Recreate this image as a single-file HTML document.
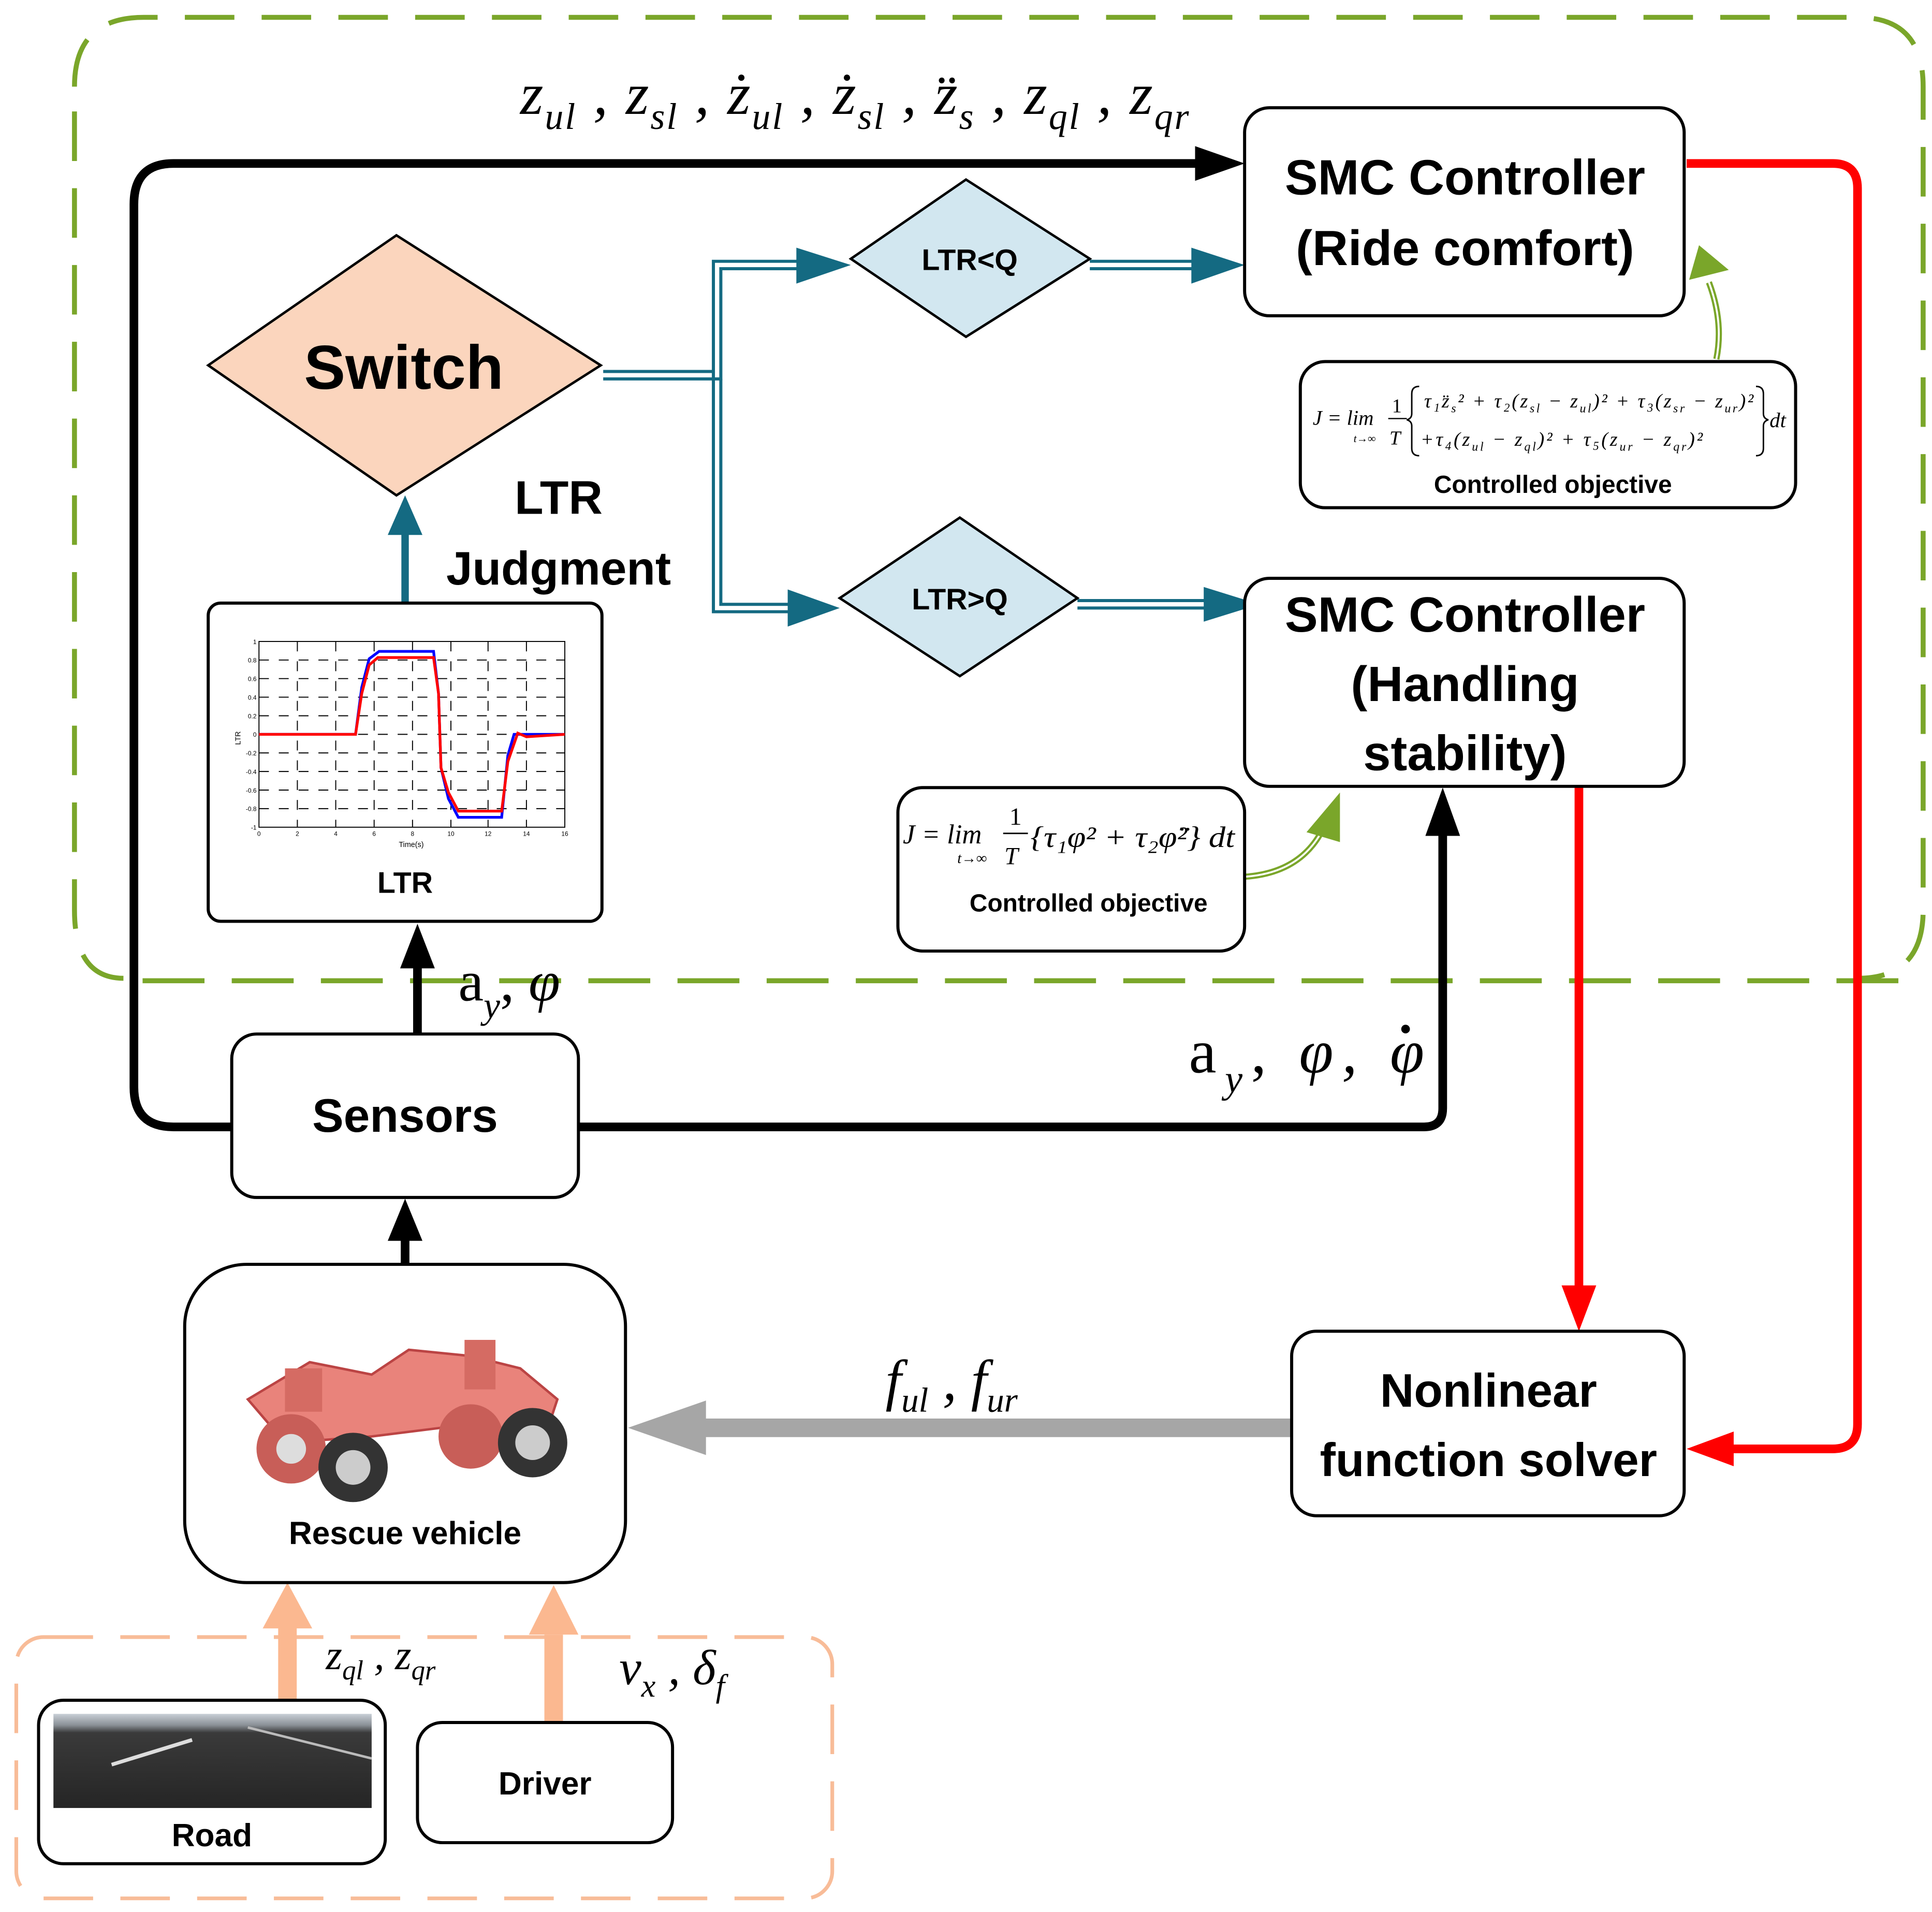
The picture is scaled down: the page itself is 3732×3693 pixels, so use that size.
<!DOCTYPE html>
<html><head><meta charset="utf-8"><style>
html,body{margin:0;padding:0;background:#fff;width:3732px;height:3693px;overflow:hidden}
svg{display:block}
.b{font-family:"Liberation Sans",sans-serif;font-weight:bold;fill:#000}
.m{font-family:"Liberation Serif",serif;font-style:italic;fill:#000}
.r{font-family:"Liberation Serif",serif;fill:#000}
</style></head><body>
<svg width="3732" height="3693" viewBox="0 0 1560 1544" xmlns="http://www.w3.org/2000/svg">
<!-- green dashed region -->
<path d="M60,70 Q60,14 116,14 H1500 Q1553,14 1553,70 V735 Q1553,790 1500,790" fill="none" stroke="#7aa62a" stroke-width="4" stroke-dasharray="40,22"/>
<path d="M60,90 V735 Q60,790 100,790" fill="none" stroke="#7aa62a" stroke-width="4" stroke-dasharray="40,22"/>
<line x1="115" y1="792" x2="1545" y2="792" stroke="#7aa62a" stroke-width="4" stroke-dasharray="50,22"/>
<!-- orange dashed region -->
<rect x="13" y="1322" width="659" height="211" rx="22" fill="none" stroke="#f8bc98" stroke-width="3" stroke-dasharray="40,22"/>

<!-- black arrows -->
<path d="M190,910 H140 Q108,910 108,878 V165 Q108,132 140,132 H970" fill="none" stroke="#000" stroke-width="7"/>
<path d="M965,118 L1005,132 L965,146z"/>
<path d="M467,910 H1150 Q1165,910 1165,895 V675" fill="none" stroke="#000" stroke-width="7"/>
<path d="M1151,675 L1165,636 L1179,675z"/>
<path d="M337,835 V780" stroke="#000" stroke-width="7"/>
<path d="M323,782 L337,746 L351,782z"/>
<path d="M327,1021 V1000" stroke="#000" stroke-width="7"/>
<path d="M313,1002 L327,968 L341,1002z"/>
<!-- teal -->
<path d="M327,487 V430" stroke="#146a82" stroke-width="6"/>
<path d="M313,432 L327,400 L341,432z" fill="#146a82"/>
<g fill="none" stroke="#146a82" stroke-width="2.5">
<path d="M487,300 H576 V211 H645"/><path d="M487,306 H582 V217 H645"/>
<path d="M576,300 V494 H640"/><path d="M582,306 V488 H640"/>
<path d="M880,211 H965"/><path d="M880,217 H965"/>
<path d="M870,485 H975"/><path d="M870,491 H975"/>
</g>
<path d="M643,200 L687,214 L643,229z" fill="#146a82"/>
<path d="M636,476 L678,491 L636,506z" fill="#146a82"/>
<path d="M962,200 L1005,214 L962,229z" fill="#146a82"/>
<path d="M972,474 L1017,488 L972,502z" fill="#146a82"/>
<!-- red -->
<path d="M1362,132 H1480 Q1500,132 1500,152 V1150 Q1500,1170 1480,1170 H1395" fill="none" stroke="#f00" stroke-width="7"/>
<path d="M1400,1156 L1362,1170 L1400,1184z" fill="#f00"/>
<path d="M1275,636 V1040" stroke="#f00" stroke-width="7"/>
<path d="M1261,1038 L1275,1075 L1289,1038z" fill="#f00"/>
<!-- gray -->
<path d="M1046,1153 H560" stroke="#a6a6a6" stroke-width="15" stroke-linecap="round"/>
<path d="M570,1131 L507,1153 L570,1175z" fill="#a6a6a6"/>
<!-- orange -->
<path d="M232,1373 V1310" stroke="#fbb890" stroke-width="15"/>
<path d="M212,1315 L232,1278 L252,1315z" fill="#fbb890"/>
<path d="M447,1391 V1320" stroke="#fbb890" stroke-width="15"/>
<path d="M427,1320 L447,1280 L467,1320z" fill="#fbb890"/>
<!-- green curves -->
<path d="M1386,290 Q1392,260 1380,228" fill="none" stroke="#7aa62a" stroke-width="5"/>
<path d="M1386,290 Q1392,260 1380,228" fill="none" stroke="#fff" stroke-width="1.5"/>
<path d="M1364,226 L1372,198 L1396,218z" fill="#7aa62a"/>
<path d="M1005,708 Q1050,705 1068,670" fill="none" stroke="#7aa62a" stroke-width="5"/>
<path d="M1005,708 Q1050,705 1068,670" fill="none" stroke="#fff" stroke-width="1.5"/>
<path d="M1055,672 L1082,640 L1082,680z" fill="#7aa62a"/>

<!-- boxes -->
<g fill="#fff" stroke="#000" stroke-width="2.5">
<rect x="1005" y="87" width="355" height="168" rx="20"/>
<rect x="1005" y="467" width="355" height="168" rx="20"/>
<rect x="1050" y="292" width="400" height="118" rx="20"/>
<rect x="725" y="636" width="280" height="132" rx="20"/>
<rect x="168" y="487" width="318" height="257" rx="10"/>
<rect x="187" y="835" width="280" height="132" rx="20"/>
<rect x="149" y="1021" width="356" height="257" rx="50"/>
<rect x="1043" y="1075" width="317" height="149" rx="20"/>
<rect x="31" y="1373" width="280" height="132" rx="20"/>
<rect x="337" y="1391" width="206" height="97" rx="20"/>
</g>
<polygon points="168,295 320,190 485,295 320,400" fill="#fbd5bd" stroke="#000" stroke-width="2"/>
<polygon points="687,209 780,145 880,209 780,272" fill="#d2e7f0" stroke="#000" stroke-width="2"/>
<polygon points="678,483 775,418 870,483 775,546" fill="#d2e7f0" stroke="#000" stroke-width="2"/>

<!-- text -->
<text class="b" x="326" y="314" font-size="50" text-anchor="middle">Switch</text>
<text class="b" x="783" y="218" font-size="24" text-anchor="middle">LTR&lt;Q</text>
<text class="b" x="775" y="492" font-size="24" text-anchor="middle">LTR&gt;Q</text>
<text class="b" x="1183" y="157" font-size="40" text-anchor="middle">SMC Controller</text>
<text class="b" x="1183" y="214" font-size="40" text-anchor="middle">(Ride comfort)</text>
<text class="b" x="1183" y="510" font-size="40" text-anchor="middle">SMC Controller</text>
<text class="b" x="1183" y="566" font-size="40" text-anchor="middle">(Handling</text>
<text class="b" x="1183" y="622" font-size="40" text-anchor="middle">stability)</text>
<text class="b" x="451" y="415" font-size="38" text-anchor="middle">LTR</text>
<text class="b" x="451" y="472" font-size="38" text-anchor="middle">Judgment</text>
<text class="b" x="327" y="914" font-size="38" text-anchor="middle">Sensors</text>
<text class="b" x="1202" y="1136" font-size="38" text-anchor="middle">Nonlinear</text>
<text class="b" x="1202" y="1192" font-size="38" text-anchor="middle">function solver</text>
<text class="b" x="327" y="1247" font-size="26" text-anchor="middle">Rescue vehicle</text>
<text class="b" x="171" y="1491" font-size="26" text-anchor="middle">Road</text>
<text class="b" x="440" y="1449" font-size="26" text-anchor="middle">Driver</text>
<text class="b" x="327" y="721" font-size="24" text-anchor="middle">LTR</text>
<text class="b" x="1254" y="398" font-size="20" text-anchor="middle">Controlled objective</text>
<text class="b" x="879" y="736" font-size="20" text-anchor="middle">Controlled objective</text>

<!-- formula 1 -->
<text class="m" x="1060" y="343" font-size="17">J <tspan class="r">= lim</tspan></text>
<text class="m" x="1093" y="357" font-size="9">t→∞</text>
<text class="r" x="1124" y="333" font-size="16">1</text>
<line x1="1121" y1="338" x2="1136" y2="338" stroke="#000" stroke-width="1"/>
<text class="m" x="1122" y="359" font-size="16">T</text>
<path d="M1146,312 Q1140,312 1140,318 V334 Q1140,338 1136,339 Q1140,340 1140,344 V362 Q1140,368 1146,368" fill="none" stroke="#000" stroke-width="1.2"/>
<text class="m" x="1150" y="329" font-size="16" textLength="266" lengthAdjust="spacing">τ₁z̈<tspan font-size="10" dy="4">s</tspan><tspan dy="-4">² + τ₂(z</tspan><tspan font-size="10" dy="4">sl</tspan><tspan dy="-4"> − z</tspan><tspan font-size="10" dy="4">ul</tspan><tspan dy="-4">)² + τ₃(z</tspan><tspan font-size="10" dy="4">sr</tspan><tspan dy="-4"> − z</tspan><tspan font-size="10" dy="4">ur</tspan><tspan dy="-4">)²</tspan></text>
<text class="m" x="1147" y="360" font-size="16" textLength="228" lengthAdjust="spacing">+τ₄(z<tspan font-size="10" dy="4">ul</tspan><tspan dy="-4"> − z</tspan><tspan font-size="10" dy="4">ql</tspan><tspan dy="-4">)² + τ₅(z</tspan><tspan font-size="10" dy="4">ur</tspan><tspan dy="-4"> − z</tspan><tspan font-size="10" dy="4">qr</tspan><tspan dy="-4">)²</tspan></text>
<path d="M1418,312 Q1424,312 1424,318 V334 Q1424,338 1428,339 Q1424,340 1424,344 V362 Q1424,368 1418,368" fill="none" stroke="#000" stroke-width="1.2"/>
<text class="m" x="1429" y="345" font-size="17">dt</text>

<!-- formula 2 -->
<text class="m" x="729" y="681" font-size="22">J <tspan class="r">= lim</tspan></text>
<text class="m" x="773" y="697" font-size="12">t→∞</text>
<text class="r" x="815" y="666" font-size="20">1</text>
<line x1="810" y1="673" x2="830" y2="673" stroke="#000" stroke-width="1.2"/>
<text class="m" x="811" y="698" font-size="20">T</text>
<text class="m" x="832" y="684" font-size="24" textLength="165" lengthAdjust="spacingAndGlyphs">{τ₁φ² + τ₂φ̈²} dt</text>

<!-- math labels -->
<text class="m" x="420" y="92" font-size="48" textLength="540" lengthAdjust="spacing">z<tspan font-size="30" dy="12">ul</tspan><tspan dy="-12"> , z</tspan><tspan font-size="30" dy="12">sl</tspan><tspan dy="-12"> , ż</tspan><tspan font-size="30" dy="12">ul</tspan><tspan dy="-12"> , ż</tspan><tspan font-size="30" dy="12">sl</tspan><tspan dy="-12"> , z̈</tspan><tspan font-size="30" dy="12">s</tspan><tspan dy="-12"> , z</tspan><tspan font-size="30" dy="12">ql</tspan><tspan dy="-12"> , z</tspan><tspan font-size="30" dy="12">qr</tspan></text>
<text class="r" x="370" y="808" font-size="46">a<tspan class="m" font-size="30" dy="14">y</tspan><tspan dy="-14">, </tspan><tspan class="m">φ</tspan></text>
<text class="r" x="960" y="866" font-size="50" textLength="190" lengthAdjust="spacing">a<tspan class="m" font-size="32" dy="16">y</tspan><tspan dy="-16">, </tspan><tspan class="m">φ, φ</tspan></text>
<circle cx="1135" cy="831" r="3.5" fill="#000"/>
<text class="m" x="715" y="1130" font-size="46">f<tspan font-size="28" dy="10">ul</tspan><tspan dy="-10"> , f</tspan><tspan font-size="28" dy="10">ur</tspan></text>
<text class="m" x="263" y="1348" font-size="34">z<tspan font-size="22" dy="8">ql</tspan><tspan dy="-8"> , z</tspan><tspan font-size="22" dy="8">qr</tspan></text>
<text class="m" x="500" y="1360" font-size="40">v<tspan font-size="26" dy="10">x</tspan><tspan dy="-10"> , δ</tspan><tspan font-size="26" dy="10">f</tspan></text>

<!-- LTR chart -->
<g>
<rect x="209" y="518" width="247" height="150" fill="#fff" stroke="#000" stroke-width="0.8"/>
<g stroke="#000" stroke-width="0.8" stroke-dasharray="8,8">
<line x1="209" y1="533" x2="456" y2="533"/><line x1="209" y1="548" x2="456" y2="548"/><line x1="209" y1="563" x2="456" y2="563"/><line x1="209" y1="578" x2="456" y2="578"/><line x1="209" y1="593" x2="456" y2="593"/><line x1="209" y1="608" x2="456" y2="608"/><line x1="209" y1="623" x2="456" y2="623"/><line x1="209" y1="638" x2="456" y2="638"/><line x1="209" y1="653" x2="456" y2="653"/>
<line x1="240" y1="518" x2="240" y2="668"/><line x1="271" y1="518" x2="271" y2="668"/><line x1="302" y1="518" x2="302" y2="668"/><line x1="333" y1="518" x2="333" y2="668"/><line x1="364" y1="518" x2="364" y2="668"/><line x1="394" y1="518" x2="394" y2="668"/><line x1="425" y1="518" x2="425" y2="668"/>
</g>
<polyline points="209,593 287,593 292,555 298,532 306,526 350,526 354,560 356,620 362,645 370,660 405,660 410,610 415,593 456,593" fill="none" stroke="#00f" stroke-width="2.2"/>
<polyline points="209,593 287,593 292,560 298,537 305,531 350,531 354,560 356,620 362,640 370,655 405,655 410,615 418,592 425,595 456,593" fill="none" stroke="#f00" stroke-width="2.2"/>
<text x="332" y="684" font-size="6" text-anchor="middle" font-family="Liberation Sans,sans-serif">Time(s)</text>
<text x="194" y="596" font-size="6" transform="rotate(-90 194 596)" text-anchor="middle" font-family="Liberation Sans,sans-serif">LTR</text>
<g font-size="5" font-family="Liberation Sans,sans-serif" text-anchor="end">
<text x="207" y="520">1</text><text x="207" y="535">0.8</text><text x="207" y="550">0.6</text><text x="207" y="565">0.4</text><text x="207" y="580">0.2</text><text x="207" y="595">0</text><text x="207" y="610">-0.2</text><text x="207" y="625">-0.4</text><text x="207" y="640">-0.6</text><text x="207" y="655">-0.8</text><text x="207" y="670">-1</text>
</g>
<g font-size="5" font-family="Liberation Sans,sans-serif" text-anchor="middle">
<text x="209" y="675">0</text><text x="240" y="675">2</text><text x="271" y="675">4</text><text x="302" y="675">6</text><text x="333" y="675">8</text><text x="364" y="675">10</text><text x="394" y="675">12</text><text x="425" y="675">14</text><text x="456" y="675">16</text>
</g>
</g>

<!-- road image -->
<defs><linearGradient id="rd" x1="0" y1="0" x2="0" y2="1"><stop offset="0" stop-color="#c8cfd6"/><stop offset="0.12" stop-color="#8a9096"/><stop offset="0.2" stop-color="#3a3a3a"/><stop offset="1" stop-color="#252525"/></linearGradient></defs>
<rect x="43" y="1384" width="257" height="76" fill="url(#rd)"/>
<line x1="90" y1="1425" x2="155" y2="1405" stroke="#ddd" stroke-width="3"/>
<line x1="200" y1="1395" x2="300" y2="1420" stroke="#bbb" stroke-width="2"/>

<!-- vehicle -->
<g>
<path d="M200,1130 L250,1100 L300,1110 L330,1090 L380,1095 L420,1105 L450,1130 L440,1160 L380,1150 L300,1160 L230,1165z" fill="#e9837b" stroke="#b44" stroke-width="2"/>
<rect x="230" y="1105" width="30" height="35" fill="#d56b63"/>
<rect x="375" y="1082" width="25" height="40" fill="#d56b63"/>
<circle cx="235" cy="1170" r="28" fill="#c85e58"/><circle cx="235" cy="1170" r="12" fill="#ddd"/>
<circle cx="285" cy="1185" r="28" fill="#333"/><circle cx="285" cy="1185" r="14" fill="#ccc"/>
<circle cx="380" cy="1160" r="26" fill="#c85e58"/>
<circle cx="430" cy="1165" r="28" fill="#333"/><circle cx="430" cy="1165" r="14" fill="#ccc"/>
</g>
</svg>
</body></html>
